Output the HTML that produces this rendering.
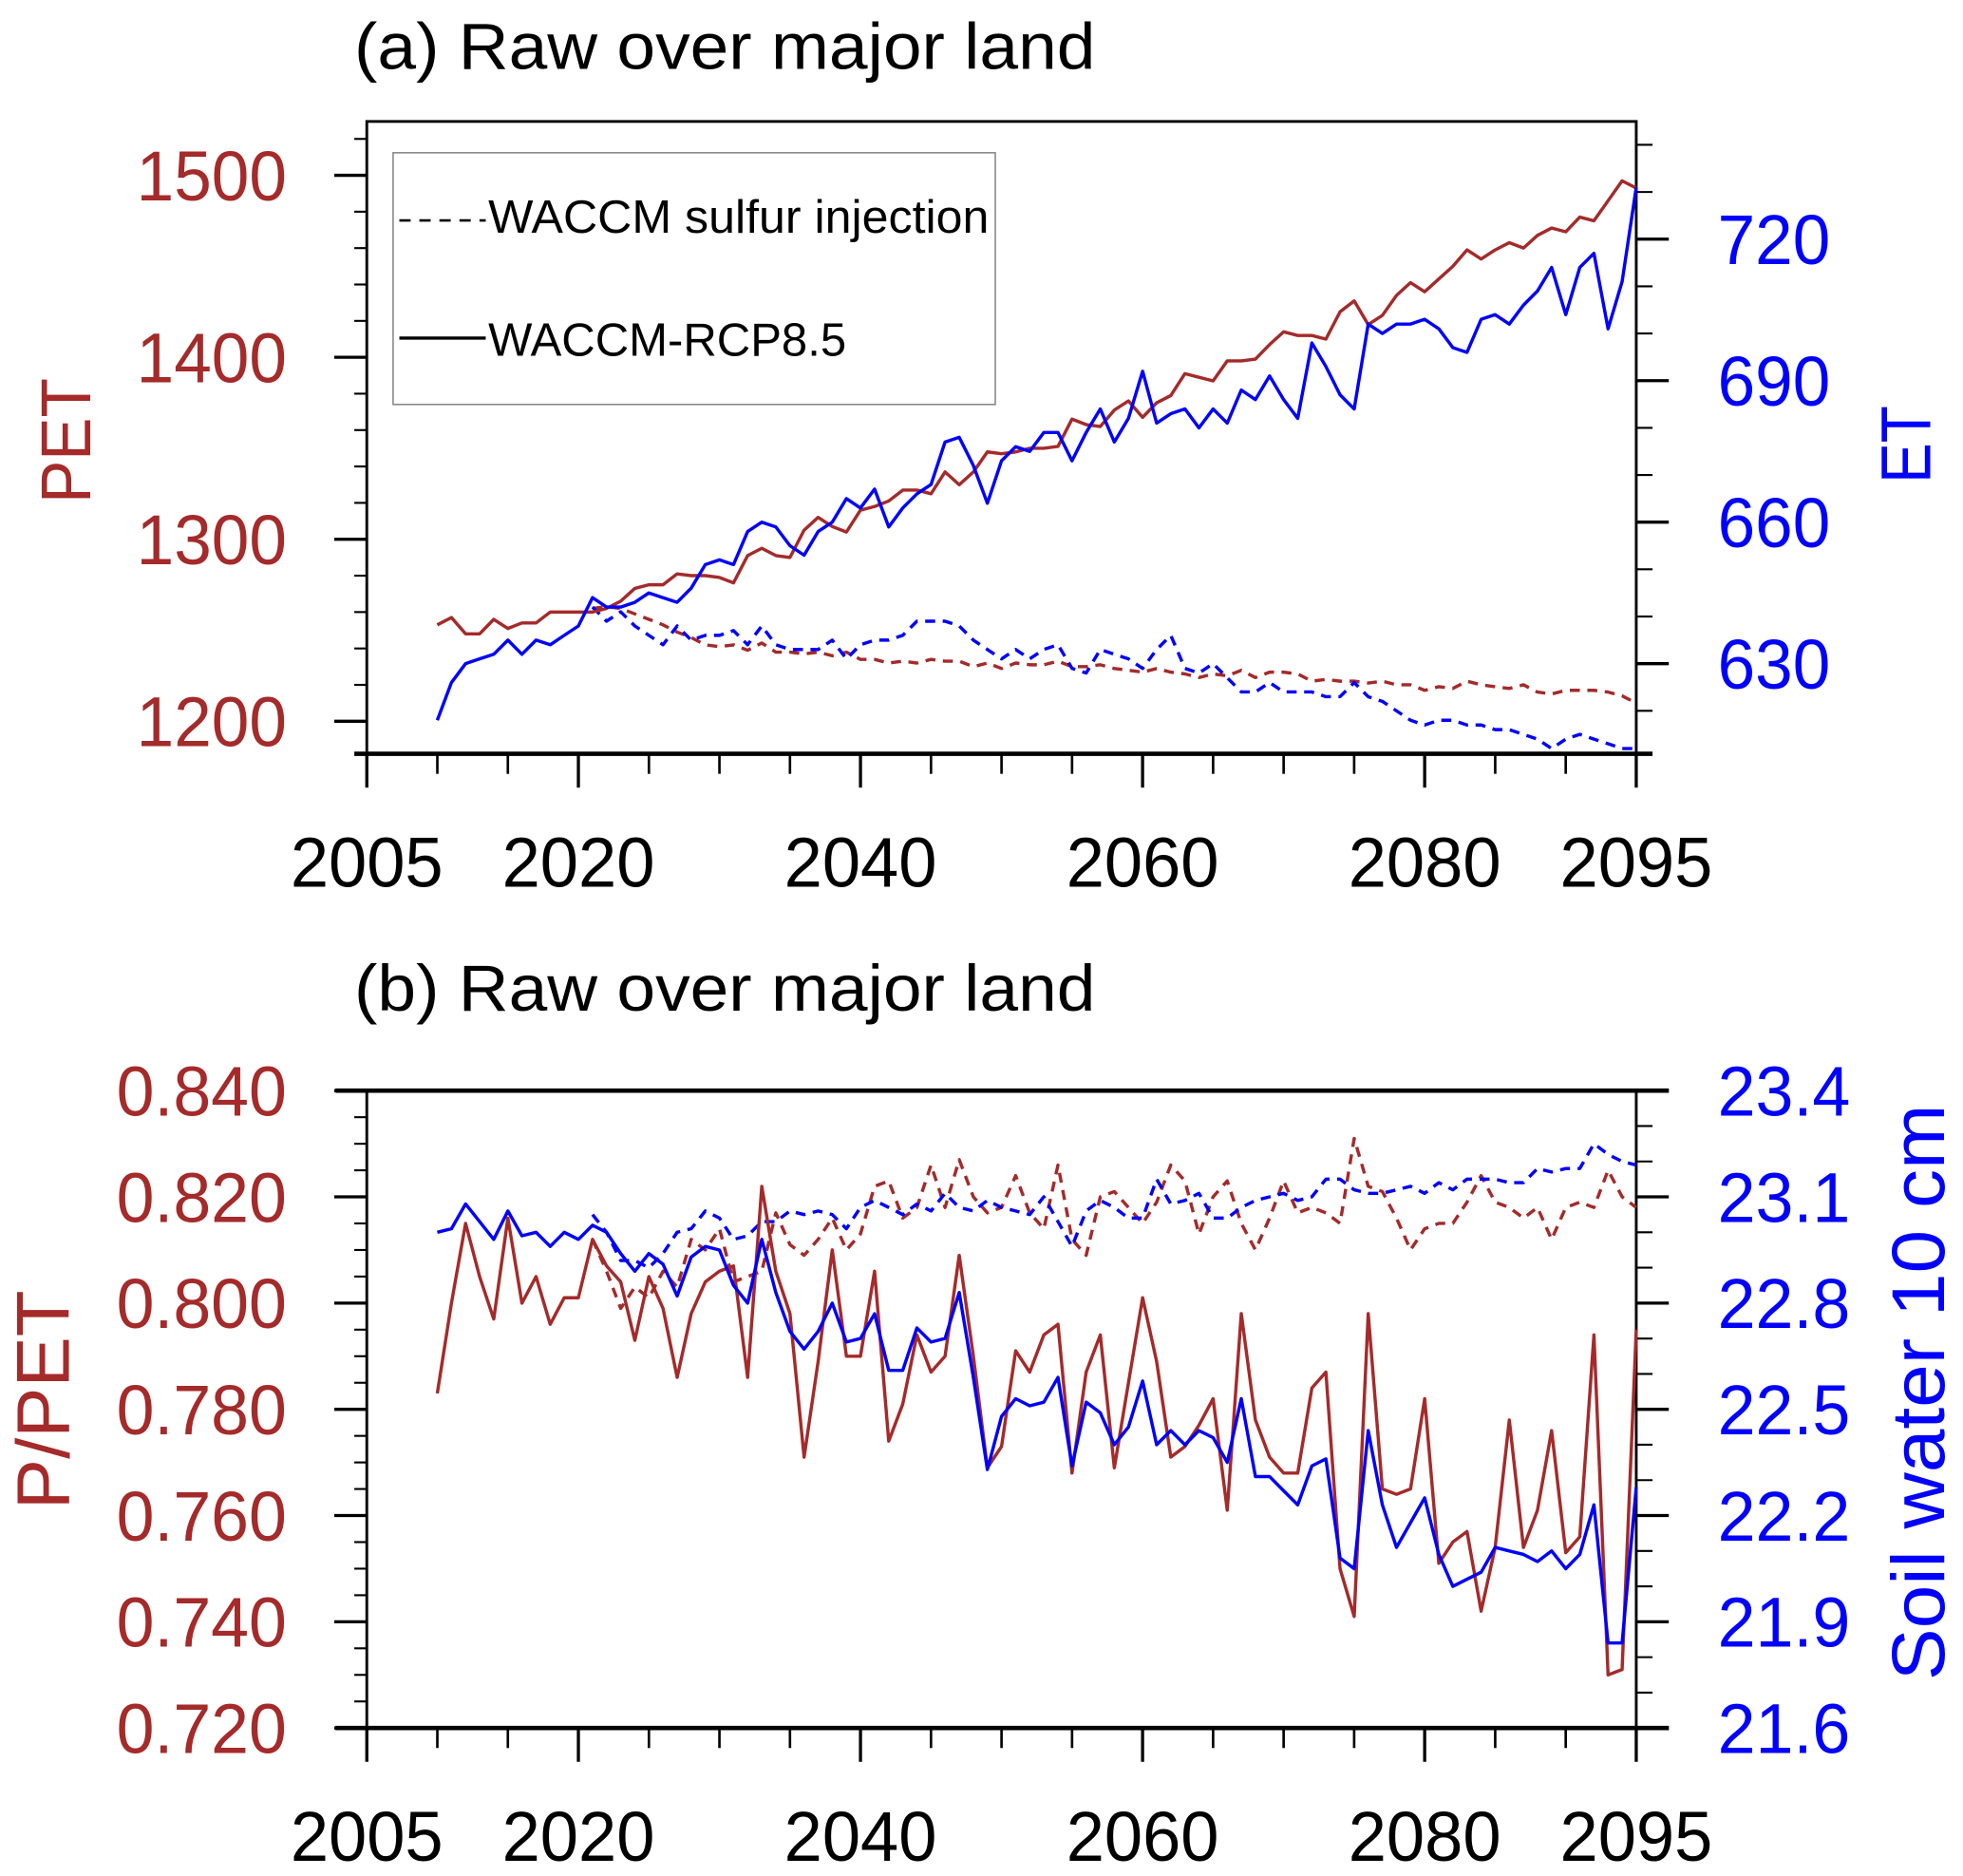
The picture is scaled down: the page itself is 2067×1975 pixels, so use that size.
<!DOCTYPE html>
<html><head><meta charset="utf-8">
<style>
html,body{margin:0;padding:0;background:#fff;}
svg{display:block;font-family:"Liberation Sans",Arial,sans-serif;}
</style></head>
<body>
<svg id="chart" width="2067" height="1975" viewBox="0 0 1568 1498.2" preserveAspectRatio="none" xmlns="http://www.w3.org/2000/svg"></svg>
<script>
// ---- data ----
const yearsStart = 2010;
const dashStart = 2021;
const xTicks = [2005, 2020, 2040, 2060, 2080, 2095];
const petTicks = [1200, 1300, 1400, 1500];
const etTicks = [630, 660, 690, 720];
const ppetTicks = [0.720, 0.740, 0.760, 0.780, 0.800, 0.820, 0.840];
const soilTicks = [21.6, 21.9, 22.2, 22.5, 22.8, 23.1, 23.4];

const petRcp = [1253,1257,1248,1248,1256,1251,1254,1254,1260,1260,1260,1260,1262,1266,1273,1275,1275,1281,1280,1280,1279,1276,1291,1295,1291,1290,1305,1312,1307,1304,1316,1318,1321,1327,1327,1325,1337,1330,1337,1348,1347,1348,1350,1350,1351,1366,1363,1362,1371,1376,1367,1375,1379,1391,1389,1387,1398,1398,1399,1407,1414,1412,1412,1410,1425,1431,1418,1423,1434,1441,1436,1443,1450,1459,1454,1459,1463,1460,1467,1471,1469,1477,1475,1486,1497,1493];
const etRcp = [618,626,630,631,632,635,632,635,634,636,638,644,642,642,643,645,644,643,646,651,652,651,658,660,659,655,653,658,660,665,663,667,659,663,666,668,677,678,672,664,673,676,675,679,679,673,679,684,677,682,692,681,683,684,680,684,681,688,686,691,686,682,698,693,687,684,702,700,702,702,703,701,697,696,703,704,702,706,709,714,704,714,717,701,711,731];
const petSulf = [1262,1263,1262,1259,1256,1253,1249,1246,1242,1241,1242,1239,1243,1238,1238,1237,1238,1236,1238,1234,1234,1232,1233,1232,1234,1233,1233,1230,1232,1229,1232,1231,1231,1233,1230,1230,1231,1229,1228,1227,1229,1227,1226,1224,1226,1225,1228,1224,1227,1227,1226,1222,1223,1222,1222,1221,1222,1220,1220,1217,1219,1218,1222,1220,1219,1218,1220,1216,1215,1217,1217,1217,1216,1214,1210];
const etSulf = [642,639,641,638,636,634,638,635,636,636,637,634,638,634,633,633,633,635,631,634,635,635,636,639,639,639,638,635,633,631,633,631,633,634,629,628,633,632,631,629,633,636,629,628,630,627,624,624,626,624,624,624,623,623,626,623,622,620,618,617,618,618,617,617,616,616,615,614,612,614,615,614,613,612,612];

const ppetRcp = [0.783,0.800,0.815,0.805,0.797,0.816,0.800,0.805,0.796,0.801,0.801,0.812,0.807,0.804,0.793,0.805,0.799,0.786,0.798,0.804,0.806,0.807,0.786,0.822,0.806,0.798,0.771,0.789,0.810,0.790,0.790,0.806,0.774,0.781,0.794,0.787,0.790,0.809,0.790,0.769,0.773,0.791,0.787,0.794,0.796,0.768,0.787,0.794,0.769,0.785,0.801,0.789,0.771,0.773,0.777,0.782,0.761,0.798,0.778,0.771,0.768,0.768,0.784,0.787,0.750,0.741,0.798,0.765,0.764,0.765,0.782,0.751,0.755,0.757,0.742,0.754,0.778,0.754,0.761,0.776,0.753,0.756,0.794,0.730,0.731,0.795];
const soilRcp = [23.00,23.01,23.08,23.03,22.98,23.06,22.99,23.00,22.96,23.00,22.98,23.02,23.00,22.94,22.89,22.94,22.91,22.82,22.93,22.96,22.95,22.85,22.80,22.98,22.83,22.72,22.67,22.72,22.80,22.69,22.70,22.77,22.61,22.61,22.73,22.69,22.70,22.83,22.59,22.33,22.48,22.53,22.51,22.52,22.59,22.34,22.52,22.49,22.40,22.45,22.58,22.40,22.44,22.40,22.44,22.42,22.35,22.53,22.31,22.31,22.27,22.23,22.34,22.36,22.08,22.05,22.44,22.23,22.11,22.18,22.25,22.09,22.00,22.02,22.04,22.11,22.10,22.09,22.07,22.10,22.05,22.09,22.23,21.84,21.84,22.28];
const ppetSulf = [0.812,0.806,0.799,0.803,0.801,0.806,0.803,0.812,0.810,0.814,0.804,0.805,0.806,0.817,0.811,0.809,0.812,0.816,0.810,0.813,0.822,0.823,0.816,0.818,0.826,0.818,0.827,0.820,0.817,0.818,0.824,0.817,0.814,0.826,0.812,0.809,0.820,0.821,0.818,0.815,0.819,0.826,0.823,0.813,0.820,0.823,0.815,0.810,0.816,0.823,0.817,0.818,0.817,0.815,0.831,0.822,0.821,0.816,0.810,0.814,0.815,0.815,0.819,0.824,0.819,0.818,0.816,0.818,0.812,0.818,0.819,0.818,0.825,0.820,0.818];
const soilSulf = [23.05,23.00,22.92,22.92,22.90,22.94,23.00,23.01,23.06,23.04,22.98,22.99,23.03,23.03,23.06,23.05,23.06,23.05,23.01,23.07,23.09,23.07,23.05,23.08,23.06,23.11,23.07,23.06,23.09,23.07,23.06,23.05,23.10,23.03,22.96,23.06,23.09,23.07,23.04,23.04,23.15,23.08,23.09,23.11,23.04,23.04,23.07,23.09,23.10,23.11,23.09,23.10,23.15,23.15,23.12,23.11,23.11,23.12,23.13,23.11,23.14,23.12,23.15,23.15,23.15,23.14,23.14,23.18,23.17,23.18,23.18,23.25,23.22,23.20,23.19];

// ---- drawing ----
const NS = 'http://www.w3.org/2000/svg';
const svg = document.getElementById('chart');
const BROWN = '#a52a2a', BLUE = '#0000ff';
function mk(tag, attrs, parent) {
  const e = document.createElementNS(NS, tag);
  for (const k in attrs) e.setAttribute(k, attrs[k]);
  (parent || svg).appendChild(e);
  return e;
}
const X0 = 293, X1 = 1307;
const xs = yr => X0 + (yr - 2005) / 90 * (X1 - X0);
function lin(d0, d1, r0, r1) { return v => r0 + (v - d0) / (d1 - d0) * (r1 - r0); }

function txt(x, y, s, size, fill, anchor, name, rot, tl) {
  const t = mk('text', {x: x, y: y, 'font-size': size, fill: fill, 'text-anchor': anchor || 'middle'});
  if (rot) t.setAttribute('transform', `rotate(-90 ${x} ${y})`);
  if (tl) { t.setAttribute('textLength', tl); t.setAttribute('lengthAdjust', 'spacingAndGlyphs'); }
  t.textContent = s;
  
  
  return t;
}
function line(x1, y1, x2, y2, w, name, stroke) {
  const l = mk('line', {x1, y1, x2, y2, stroke: stroke || '#000', 'stroke-width': w});
  
  
  return l;
}
function series(arr, start, ys, color, dashed, name) {
  const pts = arr.map((v, i) => xs(start + i).toFixed(1) + ',' + ys(v).toFixed(1)).join(' ');
  const p = mk('polyline', {points: pts, fill: 'none', stroke: color, 'stroke-width': 2.6, 'stroke-linejoin': 'round'});
  if (dashed) p.setAttribute('stroke-dasharray', '8,6');
  
  
}

function panel(o) {
  const {top, bot, yl, yr, lTicks, lMinor, rTicks, rMinor, lFmt, rFmt, id, lw, rw} = o;
  for (let y = 2010; y <= 2095; y += 5) line(xs(y), bot, xs(y), bot + 16, 2, id + '-x-minor-tick');
  xTicks.forEach(y => {
    line(xs(y), bot, xs(y), bot + 27, 2.5, id + '-x-major-tick');
    txt(xs(y), bot + 106, String(y), 56, '#000', 'middle', id + '-x-tick-label', false, 122);
  });
  lMinor.forEach(v => line(X0 - 10, yl(v), X0, yl(v), 1.6, id + '-left-minor-tick'));
  lTicks.forEach(v => {
    line(X0 - 26, yl(v), X0, yl(v), 2.5, id + '-left-major-tick');
    txt(229, yl(v) + 20, lFmt(v), 56, BROWN, 'end', id + '-left-tick-label', false, lw);
  });
  rMinor.forEach(v => line(X1, yr(v), X1 + 13, yr(v), 1.6, id + '-right-minor-tick'));
  rTicks.forEach(v => {
    line(X1, yr(v), X1 + 26, yr(v), 2.5, id + '-right-major-tick');
    txt(1372, yr(v) + 20, rFmt(v), 56, BLUE, 'start', id + '-right-tick-label', false, rw);
  });
  const f = mk('rect', {x: X0, y: top, width: X1 - X0, height: bot - top, fill: 'none', stroke: '#000', 'stroke-width': 2.2});
  
  
}

// ---- panel (a) ----
const aTop = 97, aBot = 602;
const yPet = lin(1200, 1500, 576, 140);
const yEt = lin(630, 720, 530, 191);
const petMinor = [], etMinor = [];
for (let v = 1180; v <= 1520; v += 20) if (yPet(v) >= aTop && yPet(v) <= aBot) petMinor.push(v);
for (let v = 610; v <= 740; v += 10) if (yEt(v) >= aTop && yEt(v) <= aBot) etMinor.push(v);
panel({top: aTop, bot: aBot, yl: yPet, yr: yEt, lTicks: petTicks, lMinor: petMinor, rTicks: etTicks, rMinor: etMinor,
  lFmt: v => String(v), rFmt: v => String(v), id: 'panel-a', lw: 120, rw: 90});
line(283, aBot, 1320, aBot, 3.5, 'panel-a-x-axis-line');
txt(283, 55, '(a) Raw over major land', 52, '#000', 'start', 'panel-a-title', false, 592);
txt(72, 352, 'PET', 56, BROWN, 'middle', 'pet-axis-title', true, 100);
txt(1542, 355, 'ET', 56, BLUE, 'middle', 'et-axis-title', true, 62);
series(petSulf, dashStart, yPet, BROWN, true, 'pet-sulfur-line');
series(etSulf, dashStart, yEt, BLUE, true, 'et-sulfur-line');
series(petRcp, yearsStart, yPet, BROWN, false, 'pet-rcp85-line');
series(etRcp, yearsStart, yEt, BLUE, false, 'et-rcp85-line');
// legend
const lg = mk('g', {});


mk('rect', {x: 314, y: 122, width: 481, height: 201, fill: '#fff', stroke: '#888', 'stroke-width': 1.2}, lg);
mk('line', {x1: 319, y1: 176, x2: 388, y2: 176, stroke: '#000', 'stroke-width': 2, 'stroke-dasharray': '9,7'}, lg);
mk('line', {x1: 319, y1: 270, x2: 388, y2: 270, stroke: '#000', 'stroke-width': 2.5}, lg);
txt(390, 186, 'WACCM  sulfur injection', 37, '#000', 'start', 'legend-entry-sulfur', false, 400);
txt(390, 284, 'WACCM-RCP8.5', 37, '#000', 'start', 'legend-entry-rcp85', false, 286);

// ---- panel (b) ----
const bTop = 871, bBot = 1380;
const yP = lin(0.72, 0.84, bBot, bTop);
const yS = lin(21.6, 23.4, bBot, bTop);
const pMinor = [], sMinor = [];
for (let i = 0; i <= 24; i++) pMinor.push(0.72 + i * 0.005);
for (let i = 0; i <= 18; i++) sMinor.push(21.6 + i * 0.1);
panel({top: bTop, bot: bBot, yl: yP, yr: yS, lTicks: ppetTicks, lMinor: pMinor, rTicks: soilTicks, rMinor: sMinor,
  lFmt: v => v.toFixed(3), rFmt: v => v.toFixed(1), id: 'panel-b', lw: 136, rw: 106});
line(268, bTop, 1333, bTop, 3.5, 'panel-b-top-line');
line(268, bBot, 1333, bBot, 3.5, 'panel-b-x-axis-line');
txt(283, 807, '(b) Raw over major land', 52, '#000', 'start', 'panel-b-title', false, 592);
txt(55, 1118, 'P/PET', 60, BROWN, 'middle', 'ppet-axis-title', true, 175);
txt(1553, 1112, 'Soil water 10 cm', 60, BLUE, 'middle', 'soil-axis-title', true, 460);
series(ppetSulf, dashStart, yP, BROWN, true, 'ppet-sulfur-line');
series(soilSulf, dashStart, yS, BLUE, true, 'soil-sulfur-line');
series(ppetRcp, yearsStart, yP, BROWN, false, 'ppet-rcp85-line');
series(soilRcp, yearsStart, yS, BLUE, false, 'soil-rcp85-line');
</script>
</body></html>
